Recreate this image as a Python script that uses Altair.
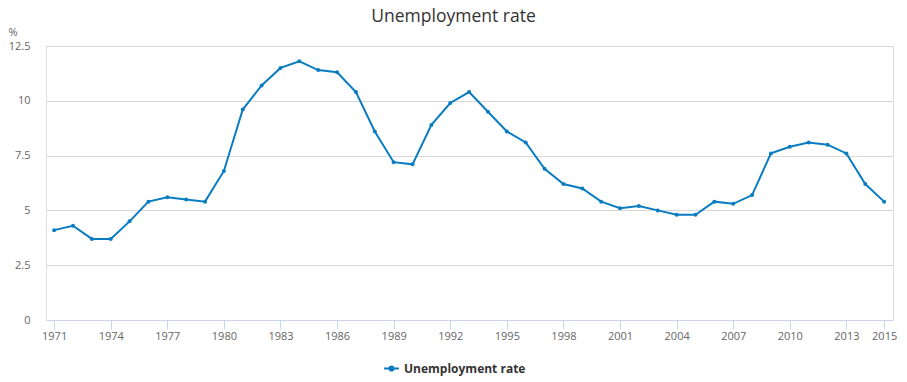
import altair as alt
import pandas as pd

years = list(range(1971, 2016))
rates = [4.1, 4.3, 3.7, 3.7, 4.5, 5.4, 5.6, 5.5, 5.4, 6.8,
         9.6, 10.7, 11.5, 11.8, 11.4, 11.3, 10.4, 8.6, 7.2, 7.1,
         8.9, 9.9, 10.4, 9.5, 8.6, 8.1, 6.9, 6.2, 6.0, 5.4,
         5.1, 5.2, 5.0, 4.8, 4.8, 5.4, 5.3, 5.7, 7.6, 7.9,
         8.1, 8.0, 7.6, 6.2, 5.4]
series_name = "Unemployment rate"
x_ticks = [1971, 1974, 1977, 1980, 1983, 1986, 1989, 1992, 1995, 1998,
           2001, 2004, 2007, 2010, 2013, 2015]
y_ticks = [0, 2.5, 5, 7.5, 10, 12.5]

df = pd.DataFrame({"year": years, "rate": rates, "series": [series_name] * len(years)})

LINE = "#0a7cc1"
FONT = "Open Sans"

legend_symbol = "M-1,0L1,0M-0.28,0A0.28,0.28 0 1,0 0.28,0A0.28,0.28 0 1,0 -0.28,0Z"

x = alt.X("year:Q",
          scale=alt.Scale(domain=[1970.57, 2015.47], nice=False, zero=False),
          axis=alt.Axis(values=x_ticks, format="d", title=None, grid=False,
                        domainColor="#ccd6eb", tickColor="#ccd6eb", tickSize=9,
                        labelPadding=1, labelFontSize=11, labelColor="#666666",
                        labelFont=FONT, labelFlush=False, labelOverlap=False))
y = alt.Y("rate:Q",
          scale=alt.Scale(domain=[0, 12.5], nice=False),
          axis=alt.Axis(values=y_ticks, labelExpr="datum.value", title="%", titleAngle=0,
                        titleX=-38, titleY=-14,
                        titleAlign="left", titleBaseline="middle", titleFontSize=11,
                        titleFontWeight="normal", titleColor="#666666", titleFont=FONT,
                        domain=False, ticks=False, gridColor="#d8d8d8",
                        labelPadding=16, labelFontSize=11, labelColor="#666666",
                        labelFont=FONT))
color = alt.Color("series:N", scale=alt.Scale(range=[LINE]),
                  legend=alt.Legend(title=None, orient="none", legendX=337, legendY=314,
                                    symbolType=legend_symbol, symbolSize=220,
                                    symbolStrokeWidth=2, symbolFillColor=LINE,
                                    labelFontSize=12, labelFontWeight="bold",
                                    labelColor="#333333", labelFont=FONT))

line = alt.Chart(df).mark_line(strokeWidth=2).encode(x=x, y=y, color=color)
pts = alt.Chart(df).mark_point(filled=True, size=16, opacity=1).encode(x="year:Q", y="rate:Q", color=alt.Color("series:N", legend=None))

chart = (line + pts).properties(
    width=847, height=274,
    autosize=alt.AutoSizeParams(type="none"),
    padding={"left": 38, "top": 38, "right": 6, "bottom": 62},
    title=alt.TitleParams(series_name, fontSize=17.5, fontWeight="normal", color="#333333",
                          font=FONT, anchor="middle", dx=-16, offset=1),
).configure_view(stroke=None).configure(background="white")

chart.save("out.html", embed_options={"renderer": "svg", "actions": False})
